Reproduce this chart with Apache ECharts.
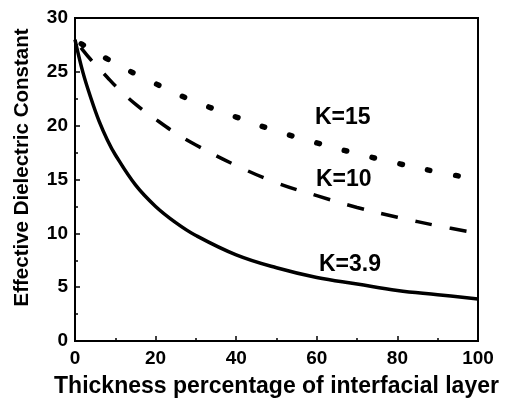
<!DOCTYPE html>
<html>
<head>
<meta charset="utf-8">
<style>
  html, body { margin: 0; padding: 0; background: #fff; }
  #chart { width: 508px; height: 403px; }
</style>
<script src="https://cdn.jsdelivr.net/npm/echarts@6/dist/echarts.min.js"></script>
</head>
<body>
<div id="chart"></div>
<script>
// thickness percentage of the interfacial layer
const thickness = [0, 2, 4, 6, 8, 10, 15, 20, 25, 30, 40, 50, 60, 70, 80, 90, 100]
// effective dielectric constant
const k39 = [28, 24.9, 22.5, 20.4, 18.7, 17.3, 14.5, 12.5, 11.0, 9.8, 8.0, 6.8, 5.9, 5.3, 4.7, 4.3, 3.9]
const k10 = [28, 27.0, 26.1, 25.3, 24.5, 23.7, 22.0, 20.6, 19.3, 18.2, 16.3, 14.7, 13.5, 12.4, 11.5, 10.7, 10.0]
const k15 = [28, 27.5, 27.1, 26.6, 26.2, 25.8, 24.8, 23.9, 23.0, 22.2, 20.8, 19.5, 18.4, 17.4, 16.5, 15.7, 15.0]
const curveLabels = ['K=3.9', 'K=10', 'K=15']

const font = '"Liberation Sans", Arial, sans-serif'

function pairs(ys) {
  return thickness.map((x, i) => [x, ys[i]])
}

const chart = echarts.init(document.getElementById('chart'))

const axisCommon = {
  axisLine: { show: true, lineStyle: { color: '#000', width: 2 } },
  axisTick: { show: true, inside: true, length: 5, lineStyle: { color: '#000', width: 1.5 } },
  minorTick: { show: true, splitNumber: 2, length: 3, lineStyle: { color: '#000', width: 1.5 } },
  splitLine: { show: false },
  axisLabel: { color: '#000', fontFamily: font, fontWeight: 'bold', fontSize: 19 }
}

chart.setOption({
  backgroundColor: '#fff',
  animation: false,
  grid: { left: 75, right: 30, top: 18, bottom: 61, show: true, borderColor: '#000', borderWidth: 2 },
  xAxis: Object.assign({}, axisCommon, {
    type: 'value',
    min: 0,
    max: 100,
    interval: 20,
    name: 'Thickness percentage of interfacial layer',
    nameLocation: 'middle',
    nameGap: 34,
    nameTextStyle: { color: '#000', fontFamily: font, fontWeight: 'bold', fontSize: 23 },
    axisLabel: Object.assign({}, axisCommon.axisLabel, { margin: 8 })
  }),
  yAxis: Object.assign({}, axisCommon, {
    type: 'value',
    min: 0,
    max: 30,
    interval: 5,
    name: 'Effective Dielectric Constant',
    nameLocation: 'middle',
    nameGap: 42,
    nameTextStyle: { color: '#000', fontFamily: font, fontWeight: 'bold', fontSize: 20.5, padding: [0, 0, 0, 24] },
    axisLabel: Object.assign({}, axisCommon.axisLabel, { margin: 7 })
  }),
  series: [
    {
      name: curveLabels[0],
      type: 'line',
      data: pairs(k39),
      smooth: 0.4,
      showSymbol: false,
      lineStyle: { color: '#000', width: 3.5 }
    },
    {
      name: curveLabels[1],
      type: 'line',
      data: pairs(k10),
      smooth: 0.4,
      showSymbol: false,
      lineStyle: { color: '#000', width: 3.5, type: [17, 18], dashOffset: -10 }
    },
    {
      name: curveLabels[2],
      type: 'line',
      data: pairs(k15),
      smooth: 0.4,
      showSymbol: false,
      lineStyle: { color: '#000', width: 5.5, type: [2.5, 26], cap: 'round', dashOffset: 21 }
    }
  ],
  graphic: [
    { type: 'text', left: 319, top: 253, style: { text: curveLabels[0], fill: '#000', font: 'bold 23px ' + font } },
    { type: 'text', left: 316, top: 168, style: { text: curveLabels[1], fill: '#000', font: 'bold 23px ' + font } },
    { type: 'text', left: 315, top: 106, style: { text: curveLabels[2], fill: '#000', font: 'bold 23px ' + font } }
  ]
})
</script>
</body>
</html>
